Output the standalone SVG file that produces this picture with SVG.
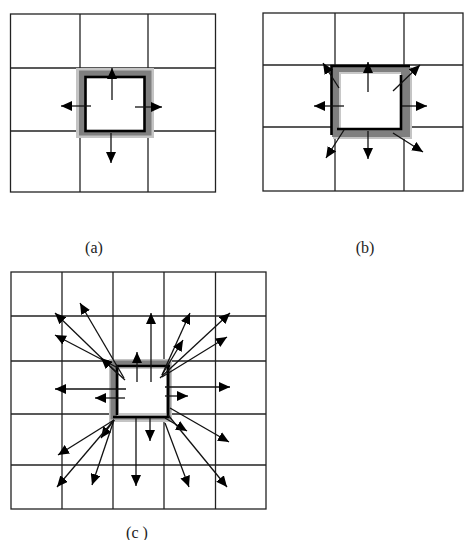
<svg xmlns="http://www.w3.org/2000/svg" width="467" height="540" viewBox="0 0 467 540">
<defs>
<marker id="ah" markerUnits="userSpaceOnUse" markerWidth="12" markerHeight="10" refX="11" refY="5" orient="auto">
<path d="M0,0 L11,5 L0,10 z" fill="#000"/>
</marker>
</defs>
<style>
.grid{fill:none;stroke:#222;stroke-width:1.3}
.arr{stroke:#111;stroke-width:1.3;fill:none;marker-end:url(#ah)}
.blk{stroke:#000;stroke-width:2.6;fill:none}
.lab{font-family:"Liberation Serif","DejaVu Serif",serif;font-size:16px;fill:#222}
</style>
<rect width="467" height="540" fill="#fff"/>

<!-- Panel (a) -->
<g id="panel-a">
<g id="grid-a" class="grid">
<rect x="10.5" y="14" width="205" height="178"/>
<line x1="80" y1="14" x2="80" y2="192"/>
<line x1="148" y1="14" x2="148" y2="192"/>
<line x1="10.5" y1="68" x2="215.5" y2="68"/>
<line x1="10.5" y1="131" x2="215.5" y2="131"/>
</g>
<g id="cell-a">
<rect x="76" y="68" width="78" height="70" fill="#c4c4c4"/>
<rect x="79" y="70.5" width="72.5" height="65" fill="#7f7f7f"/>
<rect x="85.5" y="77" width="59" height="54" fill="#fff"/>
<rect x="85.5" y="77" width="59" height="54" class="blk"/>
</g>
</g>

<!-- Panel (b) -->
<g id="panel-b">
<g id="grid-b" class="grid">
<rect x="263" y="13" width="200" height="178"/>
<line x1="335" y1="13" x2="335" y2="191"/>
<line x1="404" y1="13" x2="404" y2="191"/>
<line x1="263" y1="65" x2="463" y2="65"/>
<line x1="263" y1="127" x2="463" y2="127"/>
</g>
<g id="cell-b">
<rect x="333" y="67" width="79" height="72" fill="#c4c4c4"/>
<rect x="332" y="65" width="78" height="72" fill="#7f7f7f"/>
<rect x="339" y="72" width="62" height="57" fill="#c8c8c8"/>
<rect x="341" y="74" width="60" height="55" fill="#fff"/>
<polyline points="331.5,135 331.5,66 410,66" class="blk"/>
<polyline points="401,75 401,129 337,129" class="blk"/>
</g>
</g>

<!-- Panel (c) -->
<g id="panel-c">
<g id="grid-c" class="grid">
<rect x="11" y="272" width="255" height="237"/>
<line x1="62" y1="272" x2="62" y2="509"/>
<line x1="113" y1="272" x2="113" y2="509"/>
<line x1="164" y1="272" x2="164" y2="509"/>
<line x1="215.5" y1="272" x2="215.5" y2="509"/>
<line x1="11" y1="316" x2="266" y2="316"/>
<line x1="11" y1="361" x2="266" y2="361"/>
<line x1="11" y1="414" x2="266" y2="414"/>
<line x1="11" y1="465" x2="266" y2="465"/>
</g>
<g id="cell-c">
<rect x="109" y="359" width="63" height="63" fill="#c4c4c4"/>
<rect x="110.5" y="360.5" width="60" height="59" fill="#7f7f7f"/>
<rect x="117" y="367" width="51" height="49" fill="#c8c8c8"/>
<rect x="119" y="369" width="47" height="44" fill="#fff"/>
<polyline points="117,415 117,366 170,366" class="blk"/>
<polyline points="168,365 168,417 113,417" class="blk"/>
</g>
</g>

<!-- Connectors -->
<g id="connectors">
<!-- (a) -->
<line x1="112" y1="100" x2="112" y2="68" class="arr"/>
<line x1="91" y1="106" x2="61" y2="106" class="arr"/>
<line x1="135" y1="107" x2="162" y2="107" class="arr"/>
<line x1="111" y1="133" x2="111" y2="163" class="arr"/>
<!-- (b) -->
<line x1="368" y1="92" x2="368" y2="62" class="arr"/>
<line x1="344" y1="106" x2="314" y2="106" class="arr"/>
<line x1="402" y1="106" x2="427" y2="106" class="arr"/>
<line x1="368" y1="131" x2="368" y2="159" class="arr"/>
<line x1="339" y1="88" x2="323" y2="63" class="arr"/>
<line x1="393" y1="91" x2="420" y2="65" class="arr"/>
<line x1="344" y1="130" x2="326" y2="158" class="arr"/>
<line x1="393" y1="133" x2="423" y2="152" class="arr"/>
<!-- (c) -->
<line x1="124" y1="378" x2="80" y2="303" class="arr"/>
<line x1="118" y1="374" x2="55" y2="313" class="arr"/>
<line x1="118" y1="368" x2="55" y2="335" class="arr"/>
<line x1="125" y1="380" x2="101" y2="358" class="arr"/>
<line x1="126" y1="389" x2="55" y2="389" class="arr"/>
<line x1="125" y1="398" x2="95" y2="398" class="arr"/>
<line x1="137" y1="382" x2="137" y2="352" class="arr"/>
<line x1="151" y1="382" x2="151" y2="313" class="arr"/>
<line x1="162" y1="375" x2="190" y2="313" class="arr"/>
<line x1="162" y1="375" x2="183" y2="340" class="arr"/>
<line x1="160" y1="378" x2="230" y2="313" class="arr"/>
<line x1="162" y1="377" x2="227" y2="337" class="arr"/>
<line x1="165" y1="387" x2="230" y2="387" class="arr"/>
<line x1="165" y1="396" x2="188" y2="396" class="arr"/>
<line x1="114" y1="420" x2="58" y2="455" class="arr"/>
<line x1="114" y1="420" x2="101" y2="438" class="arr"/>
<line x1="114" y1="420" x2="57" y2="487" class="arr"/>
<line x1="114" y1="420" x2="92" y2="485" class="arr"/>
<line x1="136" y1="418" x2="136" y2="486" class="arr"/>
<line x1="150" y1="418" x2="150" y2="441" class="arr"/>
<line x1="165" y1="418" x2="187" y2="431" class="arr"/>
<line x1="170" y1="408" x2="229" y2="442" class="arr"/>
<line x1="165" y1="423" x2="189" y2="487" class="arr"/>
<line x1="168" y1="415" x2="227" y2="487" class="arr"/>
</g>

<!-- Labels -->
<text class="lab" x="94" y="253" text-anchor="middle">(a)</text>
<text class="lab" x="365" y="253" text-anchor="middle">(b)</text>
<text class="lab" x="137" y="538" text-anchor="middle">(c )</text>
</svg>
